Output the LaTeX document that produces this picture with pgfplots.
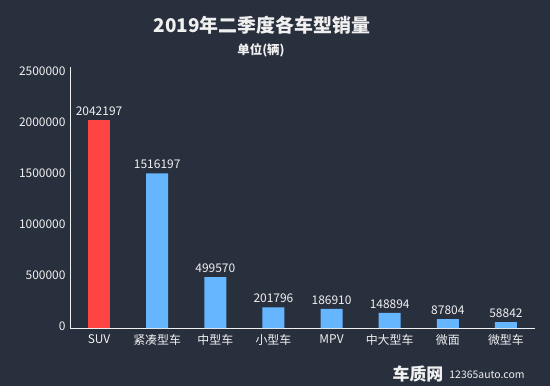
\documentclass[border=0pt]{standalone}
\usepackage{pgfplots}
\pgfplotsset{compat=1.18}
\usepackage{fontspec}
\setmainfont{Noto Sans CJK SC}
\definecolor{bg}{RGB}{40,47,61}
\definecolor{barred}{RGB}{255,68,68}
\definecolor{barblue}{RGB}{102,181,255}
\definecolor{txt}{RGB}{240,240,240}
\begin{document}
\begin{tikzpicture}[x=1bp,y=1bp]
\fill[bg] (0,0) rectangle (550,386);
\useasboundingbox (0,0) rectangle (550,386);
\node[text=txt,font=\bfseries\fontsize{19}{22}\selectfont] at (262,361) {2019年二季度各车型销量};
\node[text=txt,font=\bfseries\fontsize{12.5}{15}\selectfont] at (261,336) {单位(辆)};
\begin{axis}[at={(70bp,58bp)}, anchor=south west, scale only axis,
  width=465bp, height=261bp,
  xmin=-0.5, xmax=7.5, ymin=0, ymax=2560000,
  axis x line=bottom, axis y line=left,
  axis line style={-, draw=txt, line width=0.8pt},
  major tick length=0pt,
  ybar, bar width=22bp,
  xtick={0,...,7},
  xticklabels={SUV,紧凑型车,中型车,小型车,MPV,中大型车,微面,微型车},
  ytick={0,500000,1000000,1500000,2000000,2500000},
  scaled y ticks=false,
  /pgf/number format/.cd, fixed, 1000 sep={}, assume math mode=true, /pgfplots/.cd,
  tick label style={text=txt, font=\fontsize{12}{14}\selectfont},
  xticklabel style={yshift=-3bp},
  yticklabel style={xshift=-1bp, yshift=2bp},
  nodes near coords, point meta=explicit symbolic,
  every node near coord/.append style={text=txt, font=\fontsize{12}{14}\selectfont, anchor=south, yshift=1bp},
]
\addplot[fill=barred, draw=none, bar shift=0pt] coordinates {(0,2042197) [2042197]};
\addplot[fill=barblue, draw=none, bar shift=0pt] coordinates {
 (1,1516197) [1516197]
 (2,499570) [499570]
 (3,201796) [201796]
 (4,186910) [186910]
 (5,148894) [148894]
 (6,87804) [87804]
 (7,58842) [58842]
};
\end{axis}
\node[text=txt,font=\bfseries\fontsize{17}{19}\selectfont] at (418,12) {车质网};
\node[text=txt,font=\fontsize{10.5}{12}\selectfont] at (487,11) {12365auto.com};
\end{tikzpicture}
\end{document}
